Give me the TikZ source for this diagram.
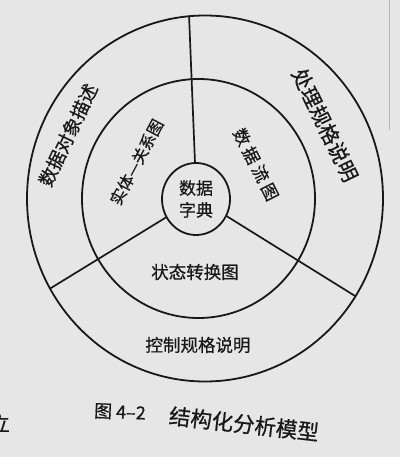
\documentclass[tikz,border=0pt]{standalone}
\usepackage{fontspec}
\setmainfont{Noto Sans CJK SC}[FakeBold=0.6]
\definecolor{paper}{RGB}{229,230,229}
\definecolor{ink}{RGB}{24,24,24}
\tikzset{
  ring/.style={draw=ink, line width=1.8pt},
  spoke/.style={draw=ink, line width=1.7pt},
  lbl/.style={text=ink, inner sep=0pt, font=\fontsize{17.5}{20}\selectfont},
}
\begin{document}
\begin{tikzpicture}[x=1pt,y=-1pt]
\fill[paper] (0,0) rectangle (400,457);
\useasboundingbox (0,0) rectangle (400,457);
% page edge on the right
\draw[gray!60, line width=0.8pt] (389,0) -- (389,130);
% spokes, clipped to the outer ring
\coordinate (c0) at (196,199);
\coordinate (vtop) at (188.4,0);
\coordinate (vbot) at (196.1,190);
\coordinate (lfar) at (0,319.3);
\coordinate (rnear) at (196,197.1);
\coordinate (rfar) at (400,323.9);
\begin{scope}
  \clip (205,198.5) ellipse [x radius=178pt, y radius=183pt];
  \draw[spoke] (vbot) -- (vtop);
  \draw[spoke] (c0) -- (lfar);
  \draw[spoke] (rnear) -- (rfar);
\end{scope}
% rings
\draw[ring] (205,198.5) ellipse [x radius=178pt, y radius=183pt];
\draw[ring] (198.5,198.5) ellipse [x radius=116.5pt, y radius=119.5pt];
\draw[ring, fill=paper] (196,199) ellipse [x radius=34pt, y radius=36pt];
% labels
\node[lbl, font=\fontsize{18.5}{20}\selectfont, rotate=64.5] (dxms) at (68,135) {数据对象描述};
\node[lbl, font=\fontsize{20.5}{22}\selectfont, rotate=-64] (clgs) at (325,125) {处理规格说明};
\node[lbl, font=\fontsize{16}{18}\selectfont, rotate=62] (stgx) at (136.5,162) {实体—关系图};
\node[lbl, font=\fontsize{17}{20}\selectfont, rotate=-63] (sjlt) at (256,164.5) {数\hspace{3.5pt}据\hspace{3.5pt}流\hspace{3.5pt}图};
\node[lbl, align=center, font=\fontsize{17}{22}\selectfont] (sjzd) at (196,199) {数据\\字典};
\node[lbl] (ztzh) at (195,272) {状态转换图};
\node[lbl] (kzgs) at (198,345) {控制规格说明};
% caption
\node[lbl, font=\fontsize{18}{20}\selectfont, rotate=-2.5] (capno) at (120,412) {图 4–2};
\node[lbl, font=\fontsize{21.5}{24}\selectfont, rotate=-6.5] (captx) at (244,424) {结构化分析模型};
% fragments of the facing page
\node[lbl, font=\fontsize{20}{22}\selectfont] (frag1) at (0,423) {立};
\node[lbl, font=\fontsize{18}{20}\selectfont] (frag2) at (-4,316) {，};
\end{tikzpicture}
\end{document}
